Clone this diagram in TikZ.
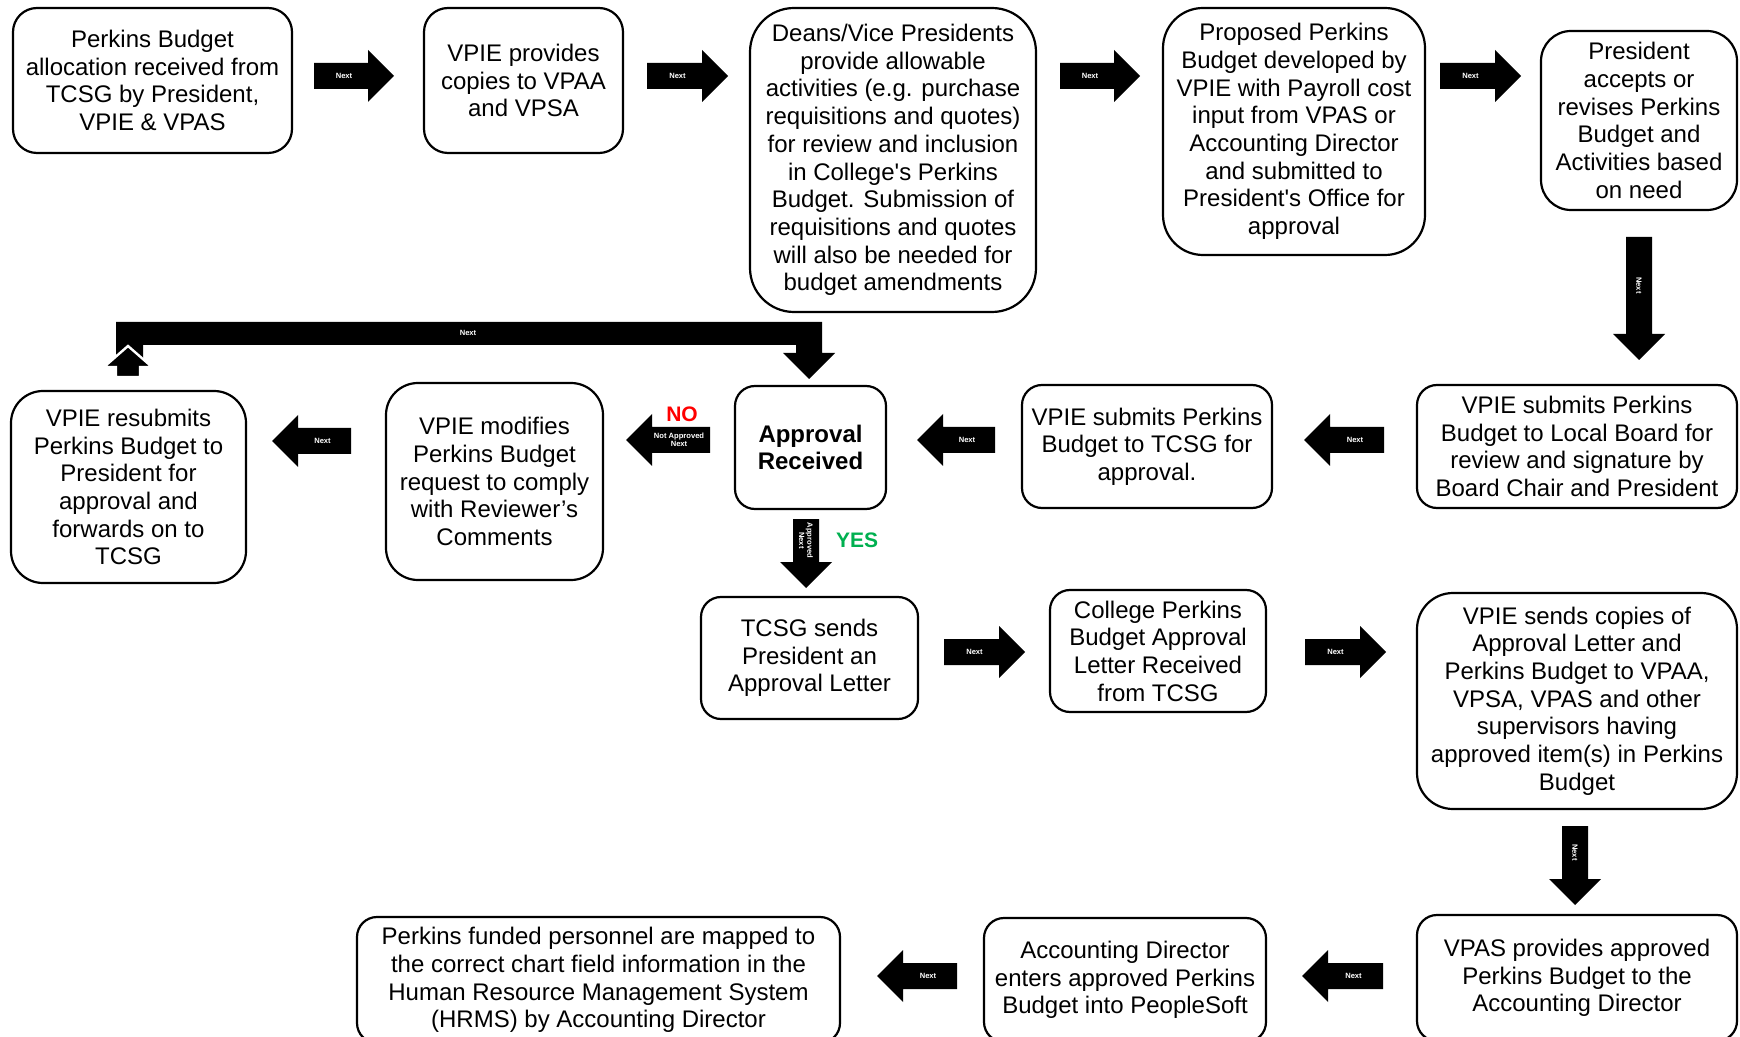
\documentclass[tikz,border=0pt]{standalone}
\usepackage{fontspec}
\setmainfont{Liberation Sans}[Ligatures=TeXOff]
\usetikzlibrary{calc}
\definecolor{yesgreen}{RGB}{0,176,80}
\definecolor{nored}{RGB}{255,0,0}
\tikzset{
  box/.style={draw=black, line width=1.1pt, fill=white, align=center, inner sep=2pt,
    font=\fontsize{12}{13.85}\selectfont},
  lbl/.style={text=white, inner sep=0pt, align=center,
    font=\fontsize{3.8}{4.2}\selectfont\bfseries},
  verdict/.style={inner sep=0pt, font=\fontsize{10.5}{12}\selectfont\bfseries}
}
% box: name, x1, x2, y1, y2, corner radius (pt), text
\newcommand\bx[7]{\node[box, rounded corners=#6pt,
  minimum width={(#3-#2)*0.5pt}, minimum height={(#5-#4)*0.5pt}]
  (#1) at ({(#2+#3)/2},{(#4+#5)/2}) {#7};}
% right block arrow: x1 (tail), x2 (tip), cy, name, label
\newcommand\arrR[5]{%
  \fill[black] (#1,#3-13) -- (#2-26,#3-13) -- (#2-26,#3-26) -- (#2,#3)
    -- (#2-26,#3+26) -- (#2-26,#3+13) -- (#1,#3+13) -- cycle;
  \node[lbl] (#4) at ({(#1+#2-26)/2+3},#3) {#5};}
% left block arrow: x1 (tip), x2 (tail), cy, name, label
\newcommand\arrL[5]{%
  \fill[black] (#2,#3-13) -- (#1+26,#3-13) -- (#1+26,#3-26) -- (#1,#3)
    -- (#1+26,#3+26) -- (#1+26,#3+13) -- (#2,#3+13) -- cycle;
  \node[lbl] (#4) at ({(#1+26+#2)/2-2},#3) {#5};}
% down block arrow: y1 (tail), y2 (tip), cx, name, label
\newcommand\arrD[5]{%
  \fill[black] (#3-13,#1) -- (#3+13,#1) -- (#3+13,#2-26) -- (#3+26,#2-26)
    -- (#3,#2) -- (#3-26,#2-26) -- (#3-13,#2-26) -- cycle;
  \node[lbl, rotate=-90] (#4) at (#3,{(#1+#2-26)/2}) {#5};}
\begin{document}
\begin{tikzpicture}[x=0.5pt,y=-0.5pt]
\useasboundingbox (0,0) rectangle (1740,1037);
\clip (0,0) rectangle (1740,1037);
\fill[white] (0,0) rectangle (1740,1037);

% ---- row 1
\bx{b1}{13}{292}{8}{153}{12}{Perkins Budget\\allocation received from\\TCSG by President,\\VPIE \& VPAS}
\bx{b2}{424}{623}{8}{153}{12}{VPIE provides\\copies to VPAA\\and VPSA}
\bx{b3}{750}{1036}{8}{312}{22}{Deans/Vice Presidents\\provide allowable\\activities (e.g. purchase\\requisitions and quotes)\\for review and inclusion\\in College's Perkins\\Budget. Submission of\\requisitions and quotes\\will also be needed for\\budget amendments}
\bx{b4}{1163}{1425}{8}{255}{20}{Proposed Perkins\\Budget developed by\\VPIE with Payroll cost\\input from VPAS or\\Accounting Director\\and submitted to\\President's Office for\\approval}
\bx{b5}{1541}{1737}{31}{210}{15}{President\\accepts or\\revises Perkins\\Budget and\\Activities based\\on need}

% ---- row 2
\bx{b6}{1417}{1737}{385}{508}{10}{VPIE submits Perkins\\Budget to Local Board for\\review and signature by\\Board Chair and President}
\bx{b7}{1022}{1272}{385}{508}{10}{VPIE submits Perkins\\Budget to TCSG for\\approval.}
\bx{b8}{735}{886}{386}{509}{10}{\bfseries Approval\\\bfseries Received}
\bx{b9}{386}{603}{383}{580}{16}{VPIE modifies\\Perkins Budget\\request to comply\\with Reviewer’s\\Comments}
\bx{b10}{11}{246}{391}{583}{16}{VPIE resubmits\\Perkins Budget to\\President for\\approval and\\forwards on to\\TCSG}

% ---- row 3
\bx{b11}{701}{918}{597}{719}{10}{TCSG sends\\President an\\Approval Letter}
\bx{b12}{1050}{1266}{590}{712}{10}{College Perkins\\Budget Approval\\Letter Received\\from TCSG}
\bx{b13}{1417}{1737}{593}{809}{18}{VPIE sends copies of\\Approval Letter and\\Perkins Budget to VPAA,\\VPSA, VPAS and other\\supervisors having\\approved item(s) in Perkins\\Budget}

% ---- row 4
\bx{b14}{1417}{1737}{915}{1041}{10}{VPAS provides approved\\Perkins Budget to the\\Accounting Director}
\bx{b15}{984}{1266}{918}{1042}{10}{Accounting Director\\enters approved Perkins\\Budget into PeopleSoft}
\bx{b16}{357}{840}{917}{1043}{10}{Perkins funded personnel are mapped to\\the correct chart field information in the\\Human Resource Management System\\(HRMS) by Accounting Director}

% ---- block arrows
\arrR{314}{394}{76}{n1}{Next}
\arrR{647}{728}{76}{n2}{Next}
\arrR{1060}{1140}{76}{n3}{Next}
\arrR{1440}{1521}{76}{n4}{Next}
\arrD{237}{360}{1639}{n5}{Next}
\arrL{1304}{1384}{440}{n6}{Next}
\arrL{917}{995}{440}{n7}{Next}
\arrL{626}{710}{440}{n8}{Not Approved\\Next}
\arrL{272}{351}{441}{n9}{Next}
\arrD{519}{588}{806}{n10}{Approved\\Next}
\arrR{944}{1025}{652}{n11}{Next}
\arrR{1305}{1386}{652}{n12}{Next}
\arrD{826}{905}{1575}{n13}{Next}
\arrL{1302}{1383}{976}{n14}{Next}
\arrL{877}{957}{976}{n15}{Next}

% ---- bent return arrow
\fill[black] (116,322) -- (822,322) -- (822,353) -- (835,353) -- (809,379)
  -- (783,353) -- (796,353) -- (796,345) -- (143,345) -- (143,362) -- (116,362) -- cycle;
\node[lbl] (nb) at (468,333) {Next};
\filldraw[fill=black, draw=white, line width=1.2pt, line join=miter]
  (128,346) -- (152,367) -- (140,367) -- (140,377) -- (116,377) -- (116,367) -- (104,367) -- cycle;

% ---- verdict labels
\node[verdict, text=nored] (no) at (682,414) {NO};
\node[verdict, text=yesgreen] (yes) at (857,540) {YES};
\end{tikzpicture}
\end{document}
